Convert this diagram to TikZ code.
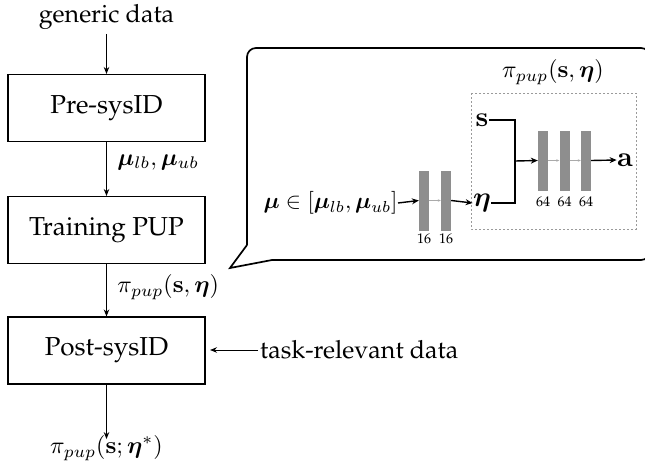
\documentclass[tikz,border=0pt]{standalone}
\usepackage[T1]{fontenc}
\renewcommand{\rmdefault}{ppl}
\usepackage{amsmath,bm}
\usetikzlibrary{arrows.meta}
\definecolor{barg}{HTML}{8E8E8E}
\definecolor{thing}{HTML}{AAAAAA}
\definecolor{dashg}{HTML}{9A9A9A}
\begin{document}
\begin{tikzpicture}[x=1pt,y=-1pt,
  proc/.style={draw, line width=1.1pt, minimum width=197pt, minimum height=67pt, inner sep=0pt, font=\fontsize{26}{31}\selectfont},
  lbl/.style={font=\fontsize{25}{30}\selectfont, inner sep=0pt},
  mlbl/.style={font=\normalsize, scale=2.4, inner sep=0pt},
  vlbl/.style={font=\normalsize, scale=2.8, inner sep=0pt},
  num/.style={font=\fontsize{14}{16}\selectfont, inner sep=0pt},
  flow/.style={-{Stealth[length=7pt,width=5.5pt]}, line width=1pt},
  netflow/.style={-{Stealth[length=7pt,width=6pt]}, line width=1.4pt},
  thinflow/.style={-{Stealth[length=3pt,width=2.5pt]}, line width=0.7pt, draw=thing},
  bar/.style={fill=barg, draw=none, minimum width=10pt, minimum height=60pt, inner sep=0pt}]
\useasboundingbox (0,0) rectangle (645,466);
% left column
\node[lbl] (gd) at (106.5,17) {generic data};
\node[proc] (pre) at (106.5,108) {Pre-sysID};
\node[proc] (train) at (106.5,230) {Training PUP};
\node[proc] (post) at (106.5,350.5) {Post-sysID};
\node[mlbl] (out) at (106.5,448) {$\pi_{pup}(\mathbf{s};\bm{\eta}^{*})$};
\node[mlbl, anchor=west] (mulab) at (117,162) {$\bm{\mu}_{lb},\bm{\mu}_{ub}$};
\node[mlbl, anchor=west] (pilab) at (117,287) {$\pi_{pup}(\mathbf{s},\bm{\eta})$};
\node[lbl, anchor=west] (trd) at (260,350) {task-relevant data};
\coordinate (tip) at (210,350);
\draw[flow] (gd.south) ++(0,4) -- (pre.north);
\draw[flow] (pre.south) -- (train.north);
\draw[flow] (train.south) -- (post.north);
\draw[flow] (post.south) -- ([yshift=-4pt]out.north);
\draw[flow] ([xshift=-2pt]trd.west) -- (tip);
% bubble
\draw[line width=1.7pt, rounded corners=9pt] (272,260) -- (650,260) -- (650,48) -- (247,48) -- (247,245);
\draw[line width=1.7pt, line join=miter] (247,245) -- (230,268) -- (272,260);
% inset network
\draw[dashg, line width=1pt, dash pattern=on 2pt off 2pt] (471,93) rectangle (636,229);
\node[mlbl] (pihead) at (553,72) {$\pi_{pup}(\mathbf{s},\bm{\eta})$};
\node[mlbl, scale=0.95, anchor=east] (mu) at (398,203) {$\bm{\mu}\in[\bm{\mu}_{lb},\bm{\mu}_{ub}]$};
\node[bar] (b1) at (424,200.5) {};
\node[bar] (b2) at (446,200.5) {};
\node[num] at (424,239) {16};
\node[num] at (446,239) {16};
\node[vlbl] (eta) at (482,203) {$\bm{\eta}$};
\node[vlbl] (s) at (482,120) {$\mathbf{s}$};
\node[bar] (c1) at (543,160.5) {};
\node[bar] (c2) at (564.5,160.5) {};
\node[bar] (c3) at (586,160.5) {};
\node[num] at (543,202) {64};
\node[num] at (564.5,202) {64};
\node[num] at (586,202) {64};
\node[vlbl] (a) at (625,160) {$\mathbf{a}$};
\coordinate (j) at (515,161);
\draw[netflow] (mu.east) -- (b1.west);
\draw[thinflow] (b1.east) -- (b2.west);
\draw[netflow] (b2.east) -- (eta.west);
\draw[line width=1.2pt] (s.east) -| (j) |- (eta.east);
\draw[netflow] (j) -- (c1.west);
\draw[thinflow] (c1.east) -- (c2.west);
\draw[thinflow] (c2.east) -- (c3.west);
\draw[netflow] (c3.east) -- (a.west);
\end{tikzpicture}
\end{document}
